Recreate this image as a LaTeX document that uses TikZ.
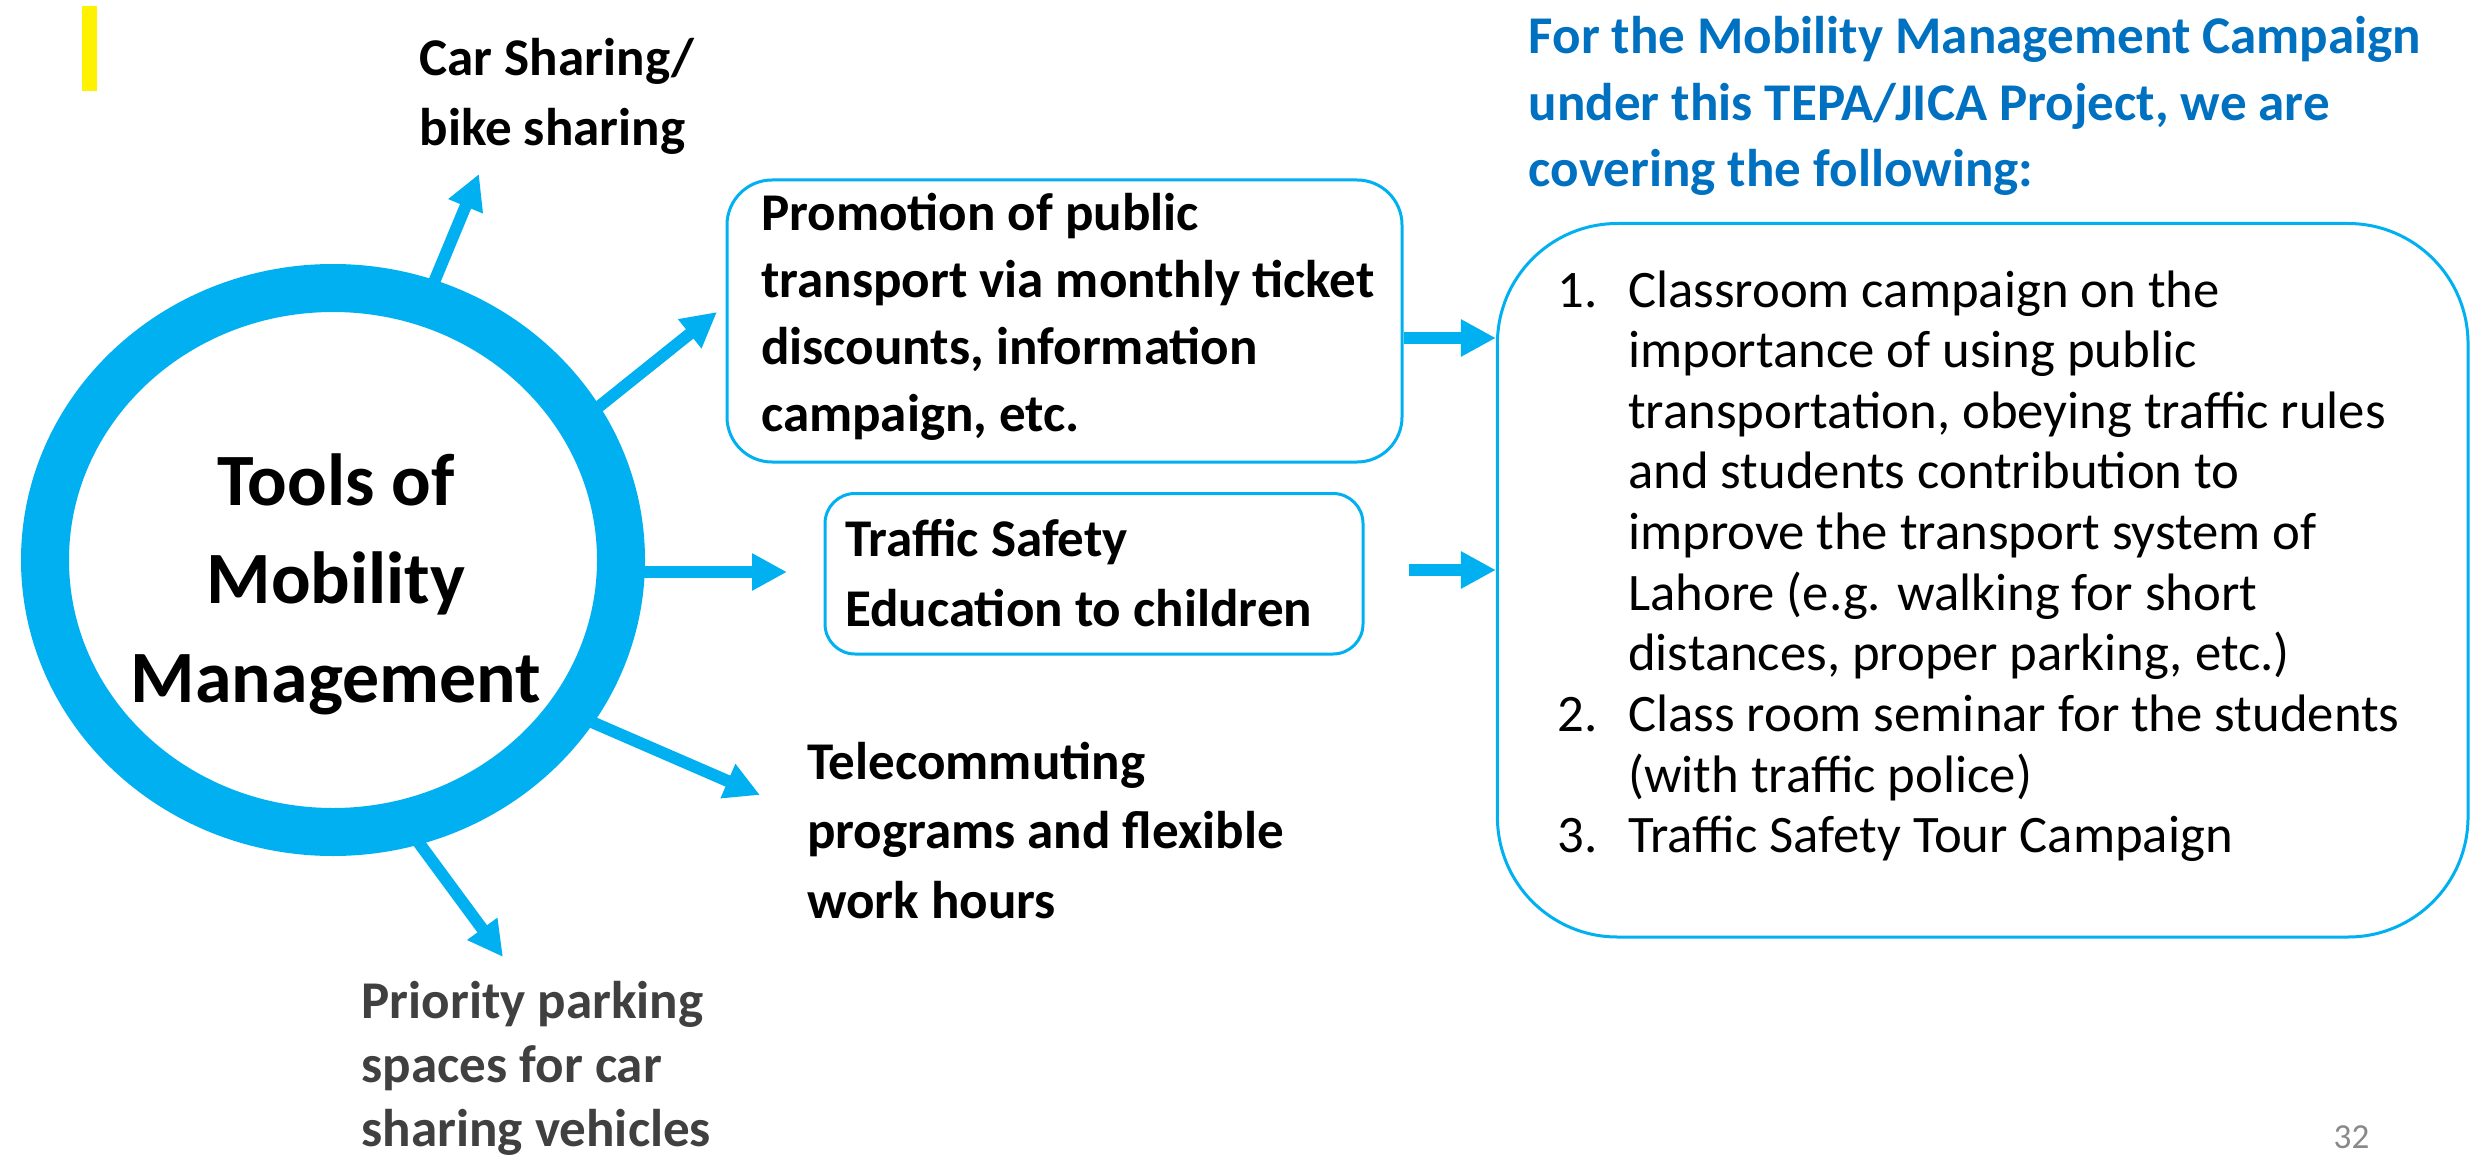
\documentclass[tikz,border=0pt]{standalone}
\usepackage{fontspec}
\setmainfont{Carlito}
\usetikzlibrary{arrows.meta,shapes.geometric,positioning}

\definecolor{mmcyan}{HTML}{00B0F0}
\definecolor{mmblue}{HTML}{0070C0}
\definecolor{mmgray}{HTML}{404040}
\definecolor{pagegray}{HTML}{898989}

\tikzset{
  spoke/.style={mmcyan, line width=0.12cm, shorten <=-0.12cm,
    -{Triangle[length=0.35cm,width=0.35cm]}},
  tool/.style={align=left, anchor=base west, inner sep=0pt},
  toolbox/.style={draw=mmcyan, line width=0.03cm},
}
\newcommand{\boldtext}[1]{\bfseries\fontsize{15.1}{#1}\selectfont}
\newcommand{\itm}[1]{\makebox[0.705cm][l]{#1}}

\begin{document}
\begin{tikzpicture}
  \useasboundingbox (0,0) rectangle (24.83,-11.61);

  % yellow marker top left
  \fill[yellow] (0.82,-0.06) rectangle (0.97,-0.91);

  % the ring
  \node[ellipse, draw=mmcyan, line width=0.48cm, inner sep=0pt,
        minimum width=5.76cm, minimum height=5.44cm] (ring) at (3.33,-5.60) {};
  \node[align=center, anchor=base, inner sep=0pt,
        font=\bfseries\fontsize{21}{28}\selectfont] (toolsText) at (3.36,-7.02)
        {Tools of\\Mobility\\Management};

  % tools around the ring
  \node[tool, font=\boldtext{20.1pt}] (carShare) at (4.19,-1.46)
        {Car Sharing/\\bike sharing};
  \node[toolbox, rounded corners=0.45cm, minimum width=6.75cm,
        minimum height=2.82cm] (promo) at (10.645,-3.21) {};
  \node[tool, font=\boldtext{19.1pt}] (promoText)
        at ([xshift=0.35cm,yshift=0.32cm]promo.south west)
        {Promotion of public\\transport via monthly ticket\\discounts, information\\campaign, etc.};
  \node[toolbox, rounded corners=0.30cm, minimum width=5.38cm,
        minimum height=1.605cm] (safety) at (10.94,-5.7375) {};
  \node[tool, font=\boldtext{19.9pt}] (safetyText)
        at ([xshift=0.21cm,yshift=0.2925cm]safety.south west)
        {Traffic Safety\\Education to children};
  \node[tool, font=\boldtext{19.7pt}] (telework) at (8.065,-9.18)
        {Telecommuting\\programs and flexible\\work hours};
  \node[tool, mmgray, font=\boldtext{18.2pt}] (parking) at (3.61,-11.46)
        {Priority parking\\spaces for car\\sharing vehicles};

  % arrow tips
  \coordinate (carTip) at (4.79,-1.74);
  \coordinate (promoTip) at (7.17,-3.12);
  \coordinate (safetyTip) at (7.87,-5.72);
  \coordinate (teleTip) at (7.60,-7.95);
  \coordinate (parkTip) at (5.03,-9.57);

  \draw[spoke] (ring.70) -- (carTip);
  \draw[spoke] (ring.30) -- (promoTip);
  \draw[spoke] (ring.east |- safetyTip) -- (safetyTip);
  \draw[spoke] (ring.-32) -- (teleTip);
  \draw[spoke] (ring.-73) -- (parkTip);

  % campaign side
  \node[tool, mmblue, font=\boldtext{19.06pt}] (heading) at (15.28,-1.87)
        {For the Mobility Management Campaign\\under this TEPA/JICA Project, we are\\covering the following:};
  \node[toolbox, rounded corners=1.2cm, minimum width=9.706cm,
        minimum height=7.135cm] (campaign) at (19.827,-5.8025) {};
  \node[tool, font=\fontsize{15}{17.25pt}\selectfont] (campaignList)
        at ([xshift=0.611cm,yshift=0.858cm]campaign.south west)
        {\itm{1.}Classroom campaign on the\\
         \itm{}importance of using public\\
         \itm{}transportation, obeying traffic rules\\
         \itm{}and students contribution to\\
         \itm{}improve the transport system of\\
         \itm{}Lahore (e.g. walking for short\\
         \itm{}distances, proper parking, etc.)\\
         \itm{2.}Class room seminar for the students\\
         \itm{}(with traffic police)\\
         \itm{3.}Traffic Safety Tour Campaign};

  \coordinate (promoLevel) at (0,-3.38);
  \coordinate (safetyStart) at (14.09,-5.70);
  \draw[spoke, shorten <=0pt] (promo.east |- promoLevel) -- (campaign.west |- promoLevel);
  \draw[spoke, shorten <=0pt] (safetyStart) -- (campaign.west |- safetyStart);

  % slide number
  \node[anchor=base west, inner sep=0pt, pagegray, font=\fontsize{10}{12}\selectfont]
        (pageNum) at (23.33,-11.48) {32};
\end{tikzpicture}
\end{document}
